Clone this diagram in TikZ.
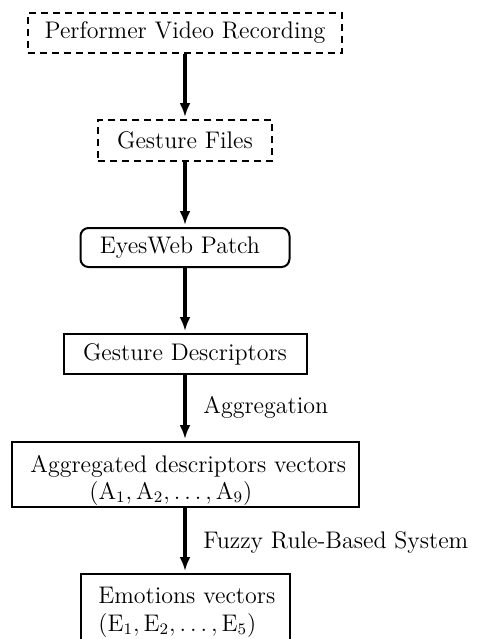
\documentclass[tikz,border=0pt]{standalone}
\usetikzlibrary{arrows.meta}
\begin{document}
\begin{tikzpicture}[x=0.5pt,y=-0.5pt,
  box/.style={draw, line width=1pt, inner sep=0pt, font=\large},
  dbox/.style={box, dash pattern=on 3.5pt off 2.5pt},
  flow/.style={line width=1.7pt, -{Latex[length=7pt,width=5.5pt]}, shorten >=1pt},
  lab/.style={font=\large, anchor=base west, inner sep=0pt}]
\useasboundingbox (0,0) rectangle (481,639);
\clip (0,0) rectangle (481,639);
\node[dbox, minimum width=157pt, minimum height=20pt] (rec) at (185,33) {Performer Video Recording};
\node[dbox, minimum width=87pt, minimum height=20.5pt] (ges) at (185,140.5) {Gesture Files};
\node[box, rounded corners=4pt, minimum width=104.5pt, minimum height=19.5pt] (eye) at (185,247.5) {EyesWeb Patch\hspace*{5pt}};
\node[box, minimum width=121.5pt, minimum height=20pt] (desc) at (185,354) {Gesture Descriptors};
\node[box, minimum width=173.5pt, minimum height=32.5pt] (agg) at (185,474.5) {};
\node[lab] (aggt1) at (30,472) {Aggregated descriptors vectors};
\node[lab] (aggt2) at (89,499) {$(\mathrm{A}_1,\mathrm{A}_2,\ldots,\mathrm{A}_9)$};
\node[box, minimum width=104.5pt, minimum height=45pt] (emo) at (185,619) {};
\node[lab] (emot1) at (98,603) {Emotions vectors};
\node[lab] (emot2) at (98,631) {$(\mathrm{E}_1,\mathrm{E}_2,\ldots,\mathrm{E}_5)$};
\draw[flow] (rec) -- (ges);
\draw[flow] (ges) -- (eye);
\draw[flow] (eye) -- (desc);
\draw[flow] (desc) -- (agg);
\draw[flow] (agg) -- (emo);
\node[lab] (l1) at (203,413) {Aggregation};
\node[lab] (l2) at (203,548) {Fuzzy Rule-Based System};
\end{tikzpicture}
\end{document}
